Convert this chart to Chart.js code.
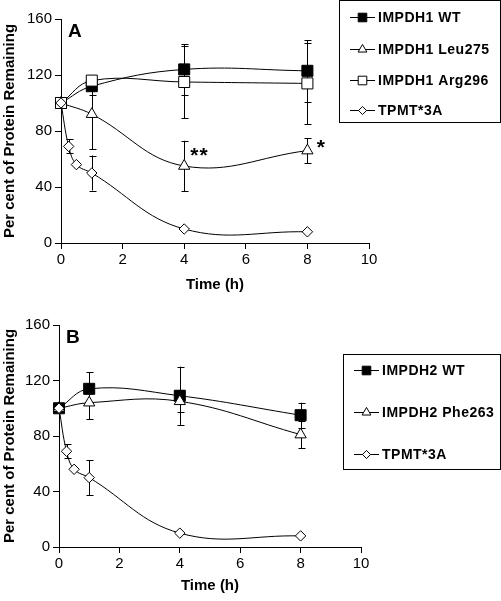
<!DOCTYPE html>
<html>
<head>
<meta charset="utf-8">
<script src="https://cdn.jsdelivr.net/npm/chart.js@4.4.0/dist/chart.umd.min.js"></script>
<style>
  body { margin: 0; background: #fff; }
  .wrap { position: absolute; left: 0; width: 501px; }
  #wrapA { top: 0; height: 300px; }
  #wrapB { top: 300px; height: 301px; }
</style>
</head>
<body>
<div class="wrap" id="wrapA"><canvas id="chartA" width="501" height="300"></canvas></div>
<div class="wrap" id="wrapB"><canvas id="chartB" width="501" height="301"></canvas></div>
<script>
// time points (h)
const hoursMain = [0, 1, 4, 8];
const hoursTpmt = [0, 0.25, 0.5, 1, 4, 8];

// Panel A
const imp1WT = [100, 112, 124, 123];
const imp1WTErr = [0, 6, 18, 22];
const imp1Leu = [100, 92, 55, 66];
const imp1LeuErr = [0, 25, 18, 9];
const imp1Arg = [100, 116, 115, 114];
const imp1ArgErr = [0, 3, 26, 29];

// Panel B
const imp2WT = [100, 114, 109, 95];
const imp2WTErr = [0, 12, 21, 9];
const imp2Phe = [100, 104, 105, 81];
const imp2PheErr = [0, 12, 8, 10];

// TPMT*3A control (same in both panels)
const tpmt = [100, 69, 56, 50, 10, 8];
const tpmtErr = [0, 5, 0, 12.5, 0, 0];

// axis
const xMax = 10, xStep = 2;
const yMax = 160, yStep = 40;

// significance marks in panel A
const starsA = [{ x: 4.2, y: 62, text: '**' }, { x: 8.3, y: 68, text: '*' }];

const FONT = '"Liberation Sans", Arial, sans-serif';

const pts = (xs, ys) => xs.map((x, i) => ({ x, y: ys[i] }));

function marker(ctx, style, x, y, r, fill) {
  ctx.beginPath();
  if (style === 'rect') {
    const s = Math.SQRT1_2 * r;
    ctx.rect(x - s, y - s, 2 * s, 2 * s);
  } else if (style === 'triangle') {
    for (let k = 0; k < 3; k++) {
      const a = k * 2 * Math.PI / 3;
      const px = x + Math.sin(a) * r, py = y - Math.cos(a) * r;
      if (k === 0) ctx.moveTo(px, py); else ctx.lineTo(px, py);
    }
    ctx.closePath();
  } else {
    ctx.moveTo(x, y - r); ctx.lineTo(x + r, y); ctx.lineTo(x, y + r); ctx.lineTo(x - r, y);
    ctx.closePath();
  }
  ctx.fillStyle = fill;
  ctx.fill();
  ctx.lineWidth = 1;
  ctx.strokeStyle = '#000';
  ctx.stroke();
}

// error bars under the markers
const errorBars = {
  id: 'errorBars',
  beforeDatasetsDraw(chart) {
    const { ctx, scales: { x, y } } = chart;
    ctx.save();
    ctx.strokeStyle = '#000';
    ctx.lineWidth = 1;
    chart.data.datasets.forEach(ds => {
      (ds.errors || []).forEach((e, i) => {
        if (!e) return;
        const p = ds.data[i];
        const px = Math.round(x.getPixelForValue(p.x)) + 0.5;
        const top = y.getPixelForValue(p.y + e);
        const bot = y.getPixelForValue(p.y - e);
        ctx.beginPath();
        ctx.moveTo(px, top); ctx.lineTo(px, bot);
        ctx.moveTo(px - 3, Math.round(top) + 0.5); ctx.lineTo(px + 4, Math.round(top) + 0.5);
        ctx.moveTo(px - 3, Math.round(bot) + 0.5); ctx.lineTo(px + 4, Math.round(bot) + 0.5);
        ctx.stroke();
      });
    });
    ctx.restore();
  }
};

// boxed legend + panel letter + stars
const extras = {
  id: 'extras',
  afterDraw(chart, args, opts) {
    const { ctx, scales: { x, y } } = chart;
    ctx.save();
    ctx.fillStyle = '#000';
    ctx.font = 'bold 19px ' + FONT;
    ctx.textBaseline = 'middle';
    ctx.textAlign = 'left';
    ctx.fillText(opts.letter, x.left + 7, y.top + 13);
    ctx.font = 'bold 21px ' + FONT;
    ctx.letterSpacing = '1px';
    (opts.stars || []).forEach(s => {
      ctx.fillText(s.text, x.getPixelForValue(s.x), y.getPixelForValue(s.y));
    });
    // legend box
    const b = opts.box;
    ctx.strokeStyle = '#000';
    ctx.lineWidth = 1;
    ctx.strokeRect(b.x + 0.5, b.y + 0.5, b.w, b.h);
    ctx.font = 'bold 14px ' + FONT;
    ctx.letterSpacing = '0.5px';
    chart.data.datasets.forEach((ds, i) => {
      const ry = Math.round(b.rows[i]) + 0.5;
      ctx.beginPath();
      ctx.moveTo(b.x + 11, ry); ctx.lineTo(b.x + 36, ry);
      ctx.stroke();
      marker(ctx, ds.pointStyle, b.x + 23.5, ry, ds.pointRadius * 0.78, ds.pointBackgroundColor);
      ctx.fillStyle = '#000';
      ctx.fillText(ds.label, b.x + 39, ry + 1);
    });
    ctx.restore();
  }
};

function series(label, xs, ys, errs, style, fill, r, order) {
  return {
    label, data: pts(xs, ys), errors: errs,
    pointStyle: style, pointRadius: r, pointHoverRadius: r,
    pointBackgroundColor: fill, pointBorderColor: '#000', pointBorderWidth: 1,
    borderColor: '#000', borderWidth: 1, tension: 0.4, fill: false, order, clip: false
  };
}

function makeChart(id, datasets, geo, extraOpts) {
  return new Chart(document.getElementById(id), {
    type: 'line',
    data: { datasets },
    options: {
      responsive: false,
      animation: false,
      layout: { padding: { left: 0, top: geo.top, right: geo.right, bottom: 0 } },
      plugins: { legend: { display: false }, tooltip: { enabled: false }, extras: extraOpts },
      scales: {
        x: {
          type: 'linear', min: 0, max: xMax,
          afterFit: s => { s.height = geo.xh; },
          border: { color: '#000', width: 1 },
          grid: { drawOnChartArea: false, color: '#000', tickLength: 6 },
          ticks: { stepSize: xStep, color: '#000', padding: 2, font: { family: FONT, size: 15 } },
          title: { display: true, text: 'Time (h)', color: '#000', padding: { top: 0, bottom: 6 },
                   font: { family: FONT, size: 15, weight: 'bold' } }
        },
        y: {
          min: 0, max: yMax,
          afterFit: s => { s.width = geo.left; },
          border: { color: '#000', width: 1 },
          grid: { drawOnChartArea: false, color: '#000', tickLength: 6 },
          ticks: { stepSize: yStep, color: '#000', padding: 3, font: { family: FONT, size: 15 } },
          title: { display: true, text: 'Per cent of Protein Remaining', color: '#000', padding: { top: 1, bottom: 0 },
                   font: { family: FONT, size: 15, weight: 'bold' } }
        }
      }
    },
    plugins: [errorBars, extras]
  });
}

makeChart('chartA', [
  series('IMPDH1 WT', hoursMain, imp1WT, imp1WTErr, 'rect', '#000', 7.8, 3),
  series('IMPDH1 Leu275', hoursMain, imp1Leu, imp1LeuErr, 'triangle', '#fff', 6.5, 2),
  series('IMPDH1 Arg296', hoursMain, imp1Arg, imp1ArgErr, 'rect', '#fff', 7.8, 1),
  series('TPMT*3A', hoursTpmt, tpmt, tpmtErr, 'rectRot', '#fff', 5.2, 0)
], { left: 61, top: 19, right: 132, xh: 57 },
{ letter: 'A', stars: starsA, box: { x: 339, y: 0, w: 161, h: 122, rows: [17, 49, 80, 110] } });

makeChart('chartB', [
  series('IMPDH2 WT', hoursMain, imp2WT, imp2WTErr, 'rect', '#000', 7.8, 2),
  series('IMPDH2 Phe263', hoursMain, imp2Phe, imp2PheErr, 'triangle', '#fff', 6.5, 1),
  series('TPMT*3A', hoursTpmt, tpmt, tpmtErr, 'rectRot', '#fff', 5.2, 0)
], { left: 59, top: 25, right: 140, xh: 54 },
{ letter: 'B', stars: [], box: { x: 343, y: 54, w: 157, h: 115, rows: [70, 112, 154] } });
</script>
</body>
</html>
